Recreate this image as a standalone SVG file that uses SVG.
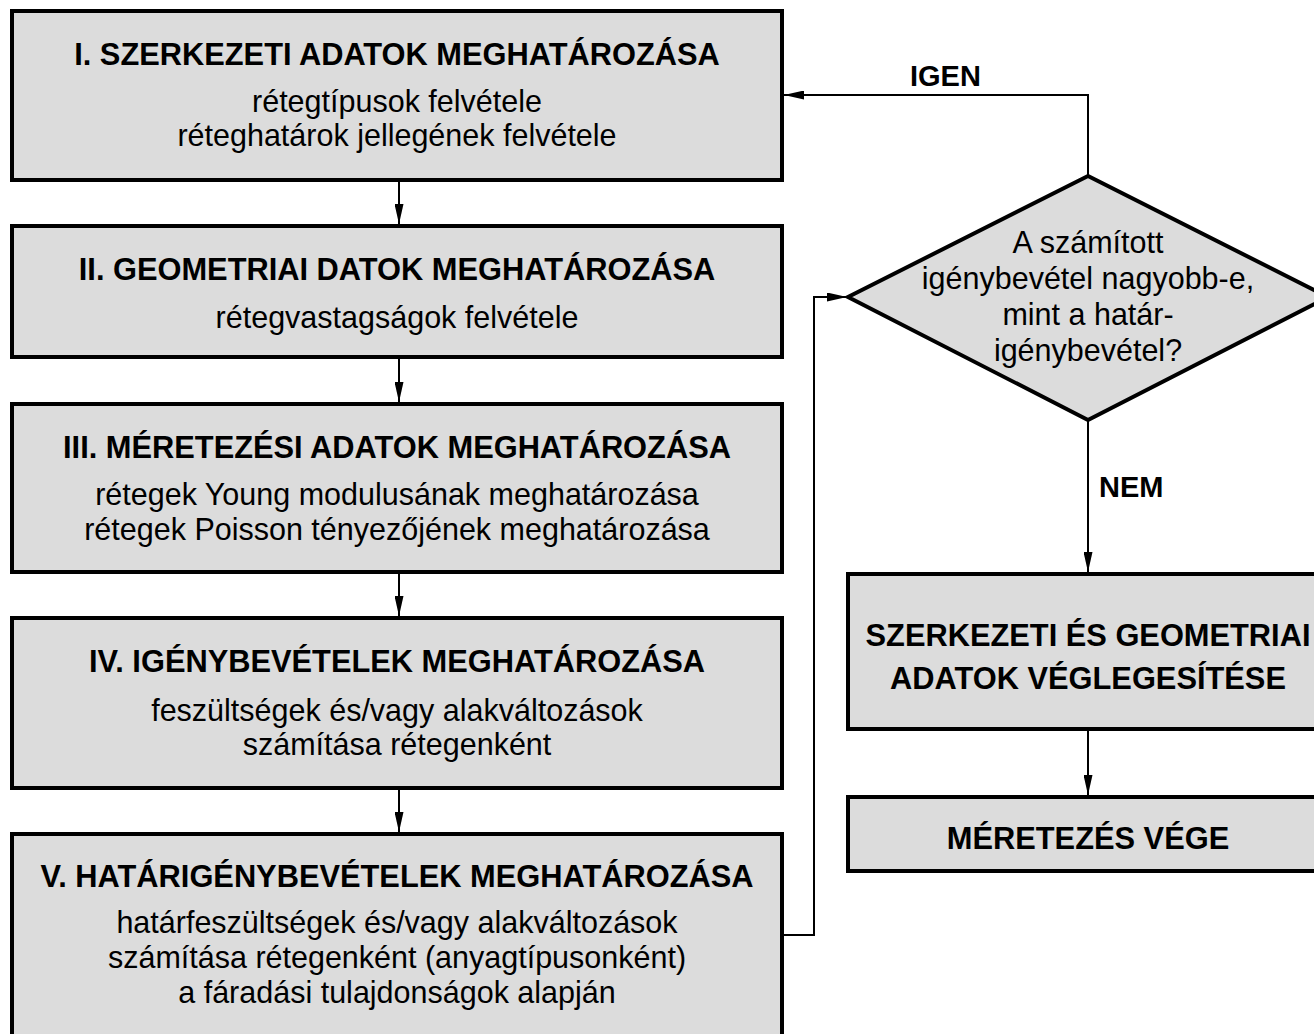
<svg xmlns="http://www.w3.org/2000/svg" width="1314" height="1034" viewBox="0 0 1314 1034">
<style>
.box{fill:#dcdcdc;stroke:#000;stroke-width:4}
.t{font-family:"Liberation Sans",Arial,sans-serif;font-size:30.5px;text-anchor:middle;fill:#000}
.b{font-weight:bold;font-size:30.8px}
.lbl{font-family:"Liberation Sans",Arial,sans-serif;font-size:29px;font-weight:bold;fill:#000}
.c{fill:none;stroke:#000;stroke-width:2}
</style>
<defs>
<marker id="ah" viewBox="0 0 20 9" refX="20" refY="4.5" markerWidth="20" markerHeight="9" markerUnits="userSpaceOnUse" orient="auto">
<path d="M0,0 L20,4.5 L0,9 z" fill="#000"/>
</marker>
</defs>
<rect width="1314" height="1034" fill="#fff"/>
<g id="connectors">
<path class="c" d="M399,182 V224" marker-end="url(#ah)"/>
<path class="c" d="M399,359 V402" marker-end="url(#ah)"/>
<path class="c" d="M399,574 V616" marker-end="url(#ah)"/>
<path class="c" d="M399,790 V832" marker-end="url(#ah)"/>
<path class="c" d="M783,935 H814 V297 H847" marker-end="url(#ah)"/>
<path class="c" d="M1088,176 V95 H784" marker-end="url(#ah)"/>
<path class="c" d="M1088,420 V572" marker-end="url(#ah)"/>
<path class="c" d="M1088,730 V795" marker-end="url(#ah)"/>
<text class="lbl" x="910" y="86">IGEN</text>
<text class="lbl" x="1099" y="497">NEM</text>
</g>
<g id="n1">
<rect class="box" x="12" y="11" width="770" height="169"/>
<text class="t b" x="397" y="65">I. SZERKEZETI ADATOK MEGHATÁROZÁSA</text>
<text class="t" x="397" y="112">rétegtípusok felvétele</text>
<text class="t" x="397" y="146">réteghatárok jellegének felvétele</text>
</g>
<g id="n2">
<rect class="box" x="12" y="226" width="770" height="131"/>
<text class="t b" x="397" y="280">II. GEOMETRIAI DATOK MEGHATÁROZÁSA</text>
<text class="t" x="397" y="328">rétegvastagságok felvétele</text>
</g>
<g id="n3">
<rect class="box" x="12" y="404" width="770" height="168"/>
<text class="t b" x="397" y="458">III. MÉRETEZÉSI ADATOK MEGHATÁROZÁSA</text>
<text class="t" x="397" y="505">rétegek Young modulusának meghatározása</text>
<text class="t" x="397" y="540">rétegek Poisson tényezőjének meghatározása</text>
</g>
<g id="n4">
<rect class="box" x="12" y="618" width="770" height="170"/>
<text class="t b" x="397" y="672">IV. IGÉNYBEVÉTELEK MEGHATÁROZÁSA</text>
<text class="t" x="397" y="721">feszültségek és/vagy alakváltozások</text>
<text class="t" x="397" y="755">számítása rétegenként</text>
</g>
<g id="n5">
<rect class="box" x="12" y="834" width="770" height="210"/>
<text class="t b" x="397" y="887">V. HATÁRIGÉNYBEVÉTELEK MEGHATÁROZÁSA</text>
<text class="t" x="397" y="933">határfeszültségek és/vagy alakváltozások</text>
<text class="t" x="397" y="968">számítása rétegenként (anyagtípusonként)</text>
<text class="t" x="397" y="1003">a fáradási tulajdonságok alapján</text>
</g>
<g id="decision">
<polygon class="box" points="1088,176 848,297 1088,420 1328,297"/>
<text class="t" x="1088" y="253">A számított</text>
<text class="t" x="1088" y="289">igénybevétel nagyobb-e,</text>
<text class="t" x="1088" y="325">mint a határ-</text>
<text class="t" x="1088" y="361">igénybevétel?</text>
</g>
<g id="n6">
<rect class="box" x="848" y="574" width="482" height="155"/>
<text class="t b" x="1088" y="646">SZERKEZETI ÉS GEOMETRIAI</text>
<text class="t b" x="1088" y="689">ADATOK VÉGLEGESÍTÉSE</text>
</g>
<g id="n7">
<rect class="box" x="848" y="797" width="482" height="74"/>
<text class="t b" x="1088" y="849">MÉRETEZÉS VÉGE</text>
</g>
</svg>
